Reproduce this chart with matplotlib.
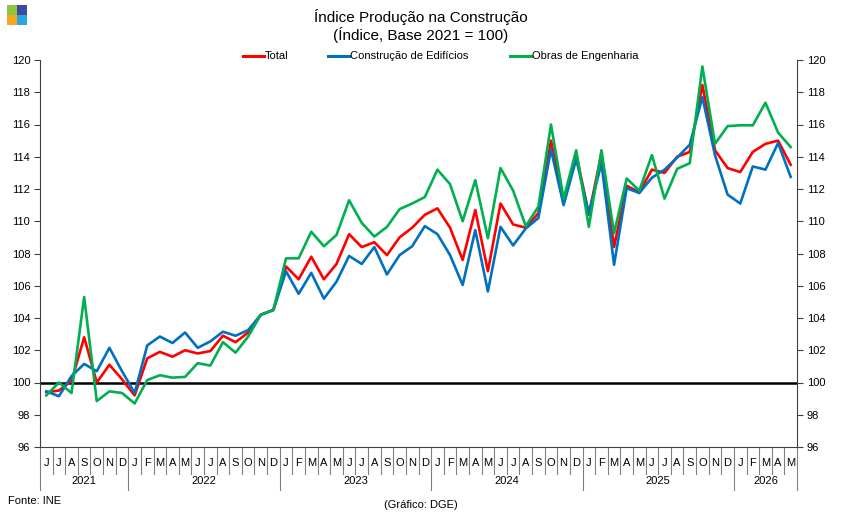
import matplotlib
matplotlib.use("Agg")
import matplotlib.pyplot as plt
from matplotlib import font_manager
from matplotlib.patches import Rectangle
from matplotlib.lines import Line2D
import matplotlib.transforms as mtransforms

names = {f.name for f in font_manager.fontManager.ttflist}
fam = [f for f in ["Liberation Sans Narrow", "Liberation Sans", "DejaVu Sans"] if f in names]
plt.rcParams['font.family'] = fam

month_labels = ["J", "J", "A", "S", "O", "N", "D"] + ["J", "F", "M", "A", "M", "J", "J", "A", "S", "O", "N", "D"] * 4 + ["J", "F", "M", "A", "M"]
years = ["2021", "2022", "2023", "2024", "2025", "2026"]
year_months = [7, 12, 12, 12, 12, 5]

total = [99.4, 99.5, 100.1, 102.8, 100.0, 101.1, 100.2, 99.2, 101.5, 101.9, 101.6, 102.0,
         101.8, 101.95, 102.9, 102.5, 103.1, 104.2, 104.5,
         107.2, 106.4, 107.8, 106.4, 107.35, 109.2, 108.4, 108.7, 107.9, 109.0, 109.6, 110.4, 110.8,
         109.6, 107.6, 110.7, 106.9,
         111.1, 109.8, 109.6, 110.5, 115.0, 111.2, 114.2, 110.4, 114.2, 108.4, 112.2, 111.8,
         113.2, 113.0, 114.0, 114.3, 118.45, 114.4, 113.3, 113.05, 114.3, 114.8, 115.0, 113.5]
edificios = [99.45, 99.15, 100.4, 101.15, 100.7, 102.15, 100.7, 99.35, 102.3, 102.85, 102.45, 103.1,
             102.15, 102.55, 103.15, 102.9, 103.25, 104.2, 104.5,
             106.9, 105.5, 106.8, 105.2, 106.25, 107.85, 107.35, 108.4, 106.7, 107.9, 108.45, 109.7, 109.2,
             107.9, 106.05, 109.45, 105.65,
             109.65, 108.5, 109.55, 110.2, 114.45, 111.0, 113.85, 110.5, 113.6, 107.3, 112.05, 111.75,
             112.7, 113.2, 113.95, 114.75, 117.7, 114.1, 111.65, 111.1, 113.4, 113.2, 114.85, 112.75]
engenharia = [99.2, 100.0, 99.35, 105.3, 98.85, 99.45, 99.35, 98.7, 100.15, 100.45, 100.3, 100.35,
              101.2, 101.05, 102.5, 101.85, 102.85, 104.2, 104.5,
              107.7, 107.7, 109.35, 108.45, 109.15, 111.3, 109.9, 109.05, 109.65, 110.75, 111.1, 111.5, 113.2,
              112.3, 110.0, 112.55, 108.95,
              113.3, 111.9, 109.7, 110.9, 116.0, 111.4, 114.4, 109.65, 114.4, 109.25, 112.65, 111.9,
              114.1, 111.4, 113.25, 113.6, 119.6, 114.8, 115.9, 115.95, 115.95, 117.35, 115.5, 114.6]
series_names = ["Total", "Construção de Edifícios", "Obras de Engenharia"]

red, blue, green = "#FF0000", "#0070C0", "#00B050"

fig = plt.figure(figsize=(8.43, 5.18), dpi=100)
W, H = 843, 518
ax = fig.add_axes([40 / W, 1 - 447 / H, (797 - 40) / W, (447 - 60) / H])

x = list(range(len(total)))
ax.plot(x, total, color=red, lw=1.9, zorder=3)
ax.plot(x, edificios, color=blue, lw=1.9, zorder=3)
ax.plot(x, engenharia, color=green, lw=1.9, zorder=4)
ax.axhline(100, color="black", lw=1.8, zorder=2)

ax.set_xlim(-0.5, len(total) - 0.5)
ax.set_ylim(96, 120)
yt = list(range(96, 121, 2))
ax.set_yticks(yt)
ax.set_yticklabels([str(v) for v in yt], fontsize=8)
ax.tick_params(axis="y", which="both", left=True, right=True, labelleft=True, labelright=True,
               direction="out", length=4, width=0.8, colors="#404040", labelcolor="black", pad=3)
ax.set_xticks([])
ax.spines["top"].set_visible(False)
for s in ["left", "right", "bottom"]:
    ax.spines[s].set_color("#404040")
    ax.spines[s].set_linewidth(0.8)

trans = mtransforms.blended_transform_factory(ax.transData, ax.transAxes)
ph = (447 - 60)
def ay(py):
    return (447 - py) / ph

for i, lab in enumerate(month_labels):
    ax.text(i, ay(463), lab, transform=trans, ha="center", va="center", fontsize=8)
boundaries = [-0.5]
c = -0.5
for n in year_months:
    c += n
    boundaries.append(c)
for i in range(len(month_labels) + 1):
    xb = i - 0.5
    yend = ay(490) if xb in boundaries else ay(474)
    ax.plot([xb, xb], [0, yend], transform=trans, color="#808080", lw=0.8, clip_on=False)
for k, yr in enumerate(years):
    mid = (boundaries[k] + boundaries[k + 1]) / 2
    ax.text(mid, ay(481), yr, transform=trans, ha="center", va="center", fontsize=8)

# manual legend
leg_handles = [243, 328, 510]
for hx, nm, col in zip(leg_handles, series_names, [red, blue, green]):
    fig.add_artist(Line2D([hx / W, (hx + 21) / W], [1 - 56 / H, 1 - 56 / H], transform=fig.transFigure,
                          color=col, lw=2.2))
    fig.text((hx + 22) / W, 1 - 56 / H, nm, ha="left", va="center", fontsize=8)

fig.text(421 / W, 1 - 17 / H, "Índice Produção na Construção", ha="center", va="center", fontsize=11)
fig.text(421 / W, 1 - 35 / H, "(Índice, Base 2021 = 100)", ha="center", va="center", fontsize=11)
fig.text(8 / W, 1 - 501 / H, "Fonte: INE", ha="left", va="center", fontsize=8)
fig.text(421 / W, 1 - 505 / H, "(Gráfico: DGE)", ha="center", va="center", fontsize=8)

sq = 9.5
for (lx, ly, col) in [(7, 5, "#8DC63F"), (17, 5, "#3F4A9E"), (7, 15, "#F7A823"), (17, 15, "#29A8E0")]:
    fig.patches.append(Rectangle((lx / W, 1 - (ly + sq) / H), sq / W, sq / H, transform=fig.transFigure,
                                 facecolor=col, edgecolor="none"))

fig.savefig("out.png", dpi=100)
